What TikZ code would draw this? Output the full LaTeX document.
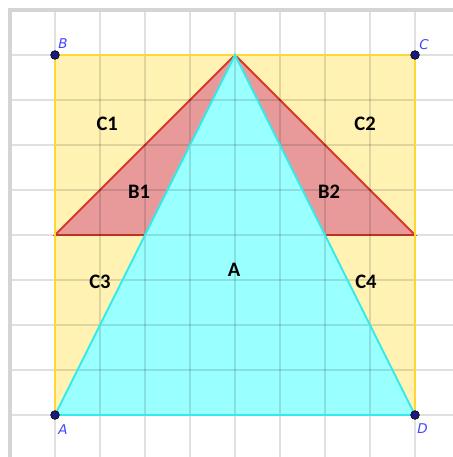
\documentclass[tikz,border=0pt]{standalone}
\usepackage{fontspec}
\setmainfont{Carlito}
\newfontfamily\ptfont{DejaVu Sans}
\definecolor{gridgray}{HTML}{D4D4D4}
\definecolor{sqfill}{HTML}{FFF2B3}
\definecolor{sqline}{HTML}{FFD633}
\definecolor{trifill}{HTML}{E89A9A}
\definecolor{triline}{HTML}{D9382A}
\definecolor{cyfill}{HTML}{99FFFF}
\definecolor{cyline}{HTML}{33EBEB}
\definecolor{ptfill}{HTML}{1A1A80}
\definecolor{ptlabel}{HTML}{4444FF}
\tikzset{
  region/.style={font=\bfseries\fontsize{13}{15}\selectfont, text=black},
  ptname/.style={font=\ptfont\itshape\fontsize{8.5}{10}\selectfont, text=ptlabel},
  dot/.style={circle, fill=ptfill, draw=black, line width=0.4pt, inner sep=0pt, minimum size=5.5pt},
  gridline/.style={black, opacity=0.12, line width=0.9pt}
}
\begin{document}
\begin{tikzpicture}[x=1cm,y=1cm]
\useasboundingbox (-1.222,-0.933) rectangle (8.844,9.222);
\coordinate (A) at (0,0);
\coordinate (D) at (8,0);
\coordinate (C) at (8,8);
\coordinate (B) at (0,8);
\coordinate (T) at (4,8);
\coordinate (L) at (0,4);
\coordinate (R) at (8,4);
% fills
\fill[sqfill] (A) -- (D) -- (C) -- (B) -- cycle;
\fill[trifill] (L) -- (T) -- (R) -- cycle;
\draw[triline, line width=1.2pt] (L) -- (T) -- (R) -- cycle;
\fill[cyfill] (A) -- (D) -- (T) -- cycle;
% grid
\begin{scope}
\clip (-1.222,-0.933) rectangle (8.844,9.222);
\foreach \x in {0,...,9} \draw[gridline] (\x,-1.5) -- (\x,9);
\foreach \y in {-1,...,8} \draw[gridline] (-1,\y) -- (9.5,\y);
\draw[gridgray, line width=2.2pt] (-1,-1.5) -- (-1,9) -- (9.5,9);
\end{scope}
% outlines
\draw[sqline, line width=1.2pt] (A) -- (D) -- (C) -- (B) -- cycle;
\draw[cyline, line width=1.2pt] (A) -- (D) -- (T) -- cycle;
% region labels
\node[region] (lC1) at (1.16,6.47) {C1};
\node[region] (lC2) at (6.89,6.47) {C2};
\node[region] (lB1) at (1.87,4.96) {B1};
\node[region] (lB2) at (6.09,4.96) {B2};
\node[region] (lC3) at (1.0,2.96) {C3};
\node[region] (lC4) at (6.91,2.96) {C4};
\node[region] (lA) at (3.98,3.22) {A};
% points
\node[dot] (pA) at (A) {};
\node[dot] (pB) at (B) {};
\node[dot] (pC) at (C) {};
\node[dot] (pD) at (D) {};
\node[ptname] (nB) at (0.18,8.25) {B};
\node[ptname] (nC) at (8.2,8.22) {C};
\node[ptname] (nA) at (0.18,-0.33) {A};
\node[ptname] (nD) at (8.17,-0.3) {D};
\end{tikzpicture}
\end{document}
